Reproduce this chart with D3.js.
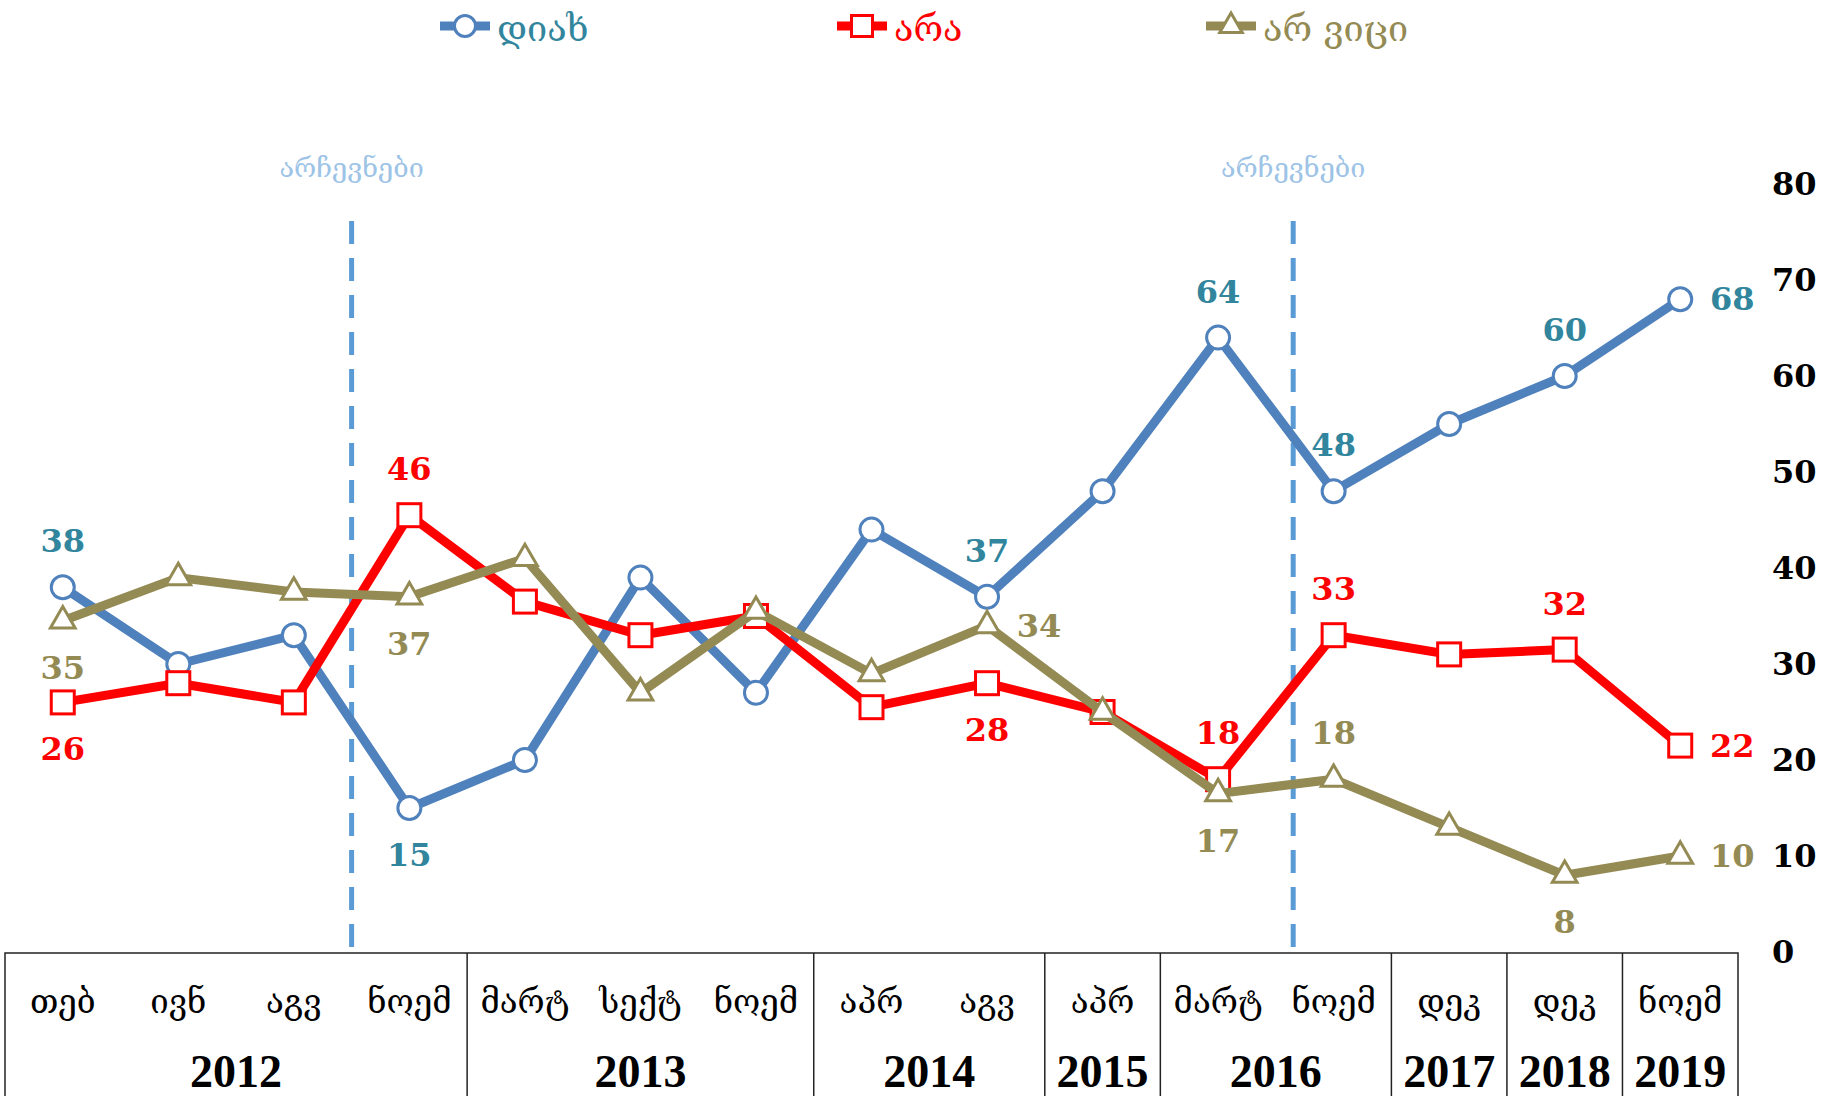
<!DOCTYPE html>
<html>
<head>
<meta charset="utf-8">
<script src="https://cdn.jsdelivr.net/npm/d3@7"></script>
<style>
  body { margin: 0; background: #fff; }
  svg { display: block; }
</style>
</head>
<body>
<div id="chart"></div>
<script>
// Data
const months = ['თებ', 'ივნ', 'აგვ', 'ნოემ', 'მარტ', 'სექტ', 'ნოემ', 'აპრ', 'აგვ', 'აპრ', 'მარტ', 'ნოემ', 'დეკ', 'დეკ', 'ნოემ'];
const years = [['2012', 4], ['2013', 3], ['2014', 2], ['2015', 1], ['2016', 2], ['2017', 1], ['2018', 1], ['2019', 1]];
const yes = [38, 30, 33, 15, 20, 39, 27, 44, 37, 48, 64, 48, 55, 60, 68];
const no = [26, 28, 26, 45.5, 36.5, 33, 35, 25.5, 28, 25, 18, 33, 31, 31.5, 21.5];
const dontKnow = [34.5, 39, 37.5, 37, 41, 27, 35.5, 29, 34, 25, 16.5, 18, 13, 8, 10];
const yTicks = [0, 10, 20, 30, 40, 50, 60, 70, 80];
const elections = [2.5, 10.65]; // position between survey waves
const electionLabel = 'არჩევნები';

// which points get a value label and where: [index, 'above' | 'below' | 'right']
const yesLabels = [[0, 'above'], [3, 'below'], [8, 'above'], [10, 'above'], [11, 'above'], [13, 'above'], [14, 'right']];
const noLabels = [[0, 'below'], [3, 'above'], [8, 'below'], [10, 'above'], [11, 'above'], [13, 'above'], [14, 'right']];
const dkLabels = [[0, 'below'], [3, 'below'], [8, 'right'], [10, 'below'], [11, 'above'], [13, 'below'], [14, 'right']];

const series = [
    { name: 'დიახ', values: yes, color: '#4f81bd', text: '#31859c', marker: 'circle', labels: yesLabels },
    { name: 'არა', values: no, color: '#ff0000', text: '#ff0000', marker: 'square', labels: noLabels },
    { name: 'არ ვიცი', values: dontKnow, color: '#948a54', text: '#948a54', marker: 'triangle', labels: dkLabels }
];

const width = 1823, height = 1096;
const svg = d3.select('#chart').append('svg').attr('width', width).attr('height', height);

// Scales
const x = d3.scaleLinear().domain([-0.5, months.length - 0.5]).range([5, 1738]);
const y = d3.scaleLinear().domain([0, 80]).range([952, 184]);

// Right axis
const yAxis = svg.append('g')
    .attr('transform', `translate(1766, 0)`)
    .call(d3.axisRight(y).tickValues(yTicks).tickSize(0).tickPadding(6));
yAxis.select('.domain').remove();
yAxis.selectAll('text')
    .attr('font-family', 'DejaVu Serif')
    .attr('font-weight', 'bold')
    .attr('font-size', 32)
    .attr('fill', '#000');

// Election markers
const el = svg.append('g').selectAll('g').data(elections).join('g');
el.append('line')
    .attr('x1', d => x(d)).attr('x2', d => x(d))
    .attr('y1', 221).attr('y2', 953)
    .attr('stroke', '#5b9bd5').attr('stroke-width', 5)
    .attr('stroke-dasharray', '23,14');
el.append('text')
    .attr('x', d => x(d)).attr('y', 169)
    .attr('text-anchor', 'middle').attr('dominant-baseline', 'middle')
    .attr('font-family', 'DejaVu Serif, DejaVu Sans')
    .attr('font-size', 27)
    .attr('fill', '#9dc3e6')
    .text(electionLabel);

// Table under the chart
const table = svg.append('g');
table.append('rect')
    .attr('x', x(-0.5)).attr('y', 953)
    .attr('width', x(months.length - 0.5) - x(-0.5)).attr('height', 160)
    .attr('fill', 'none').attr('stroke', '#222').attr('stroke-width', 1.5);
let start = 0;
const yearCells = years.map(([label, n]) => {
    const cell = { label, from: start, to: start + n };
    start += n;
    return cell;
});
table.selectAll('line').data(yearCells.slice(0, -1)).join('line')
    .attr('x1', d => x(d.to - 0.5)).attr('x2', d => x(d.to - 0.5))
    .attr('y1', 953).attr('y2', height)
    .attr('stroke', '#222').attr('stroke-width', 1.5);
table.selectAll('text.month').data(months).join('text')
    .attr('class', 'month')
    .attr('x', (d, i) => x(i)).attr('y', 1013)
    .attr('text-anchor', 'middle')
    .attr('font-family', 'DejaVu Serif, DejaVu Sans')
    .attr('font-size', 33)
    .attr('fill', '#000')
    .text(d => d);
table.selectAll('text.year').data(yearCells).join('text')
    .attr('class', 'year')
    .attr('x', d => (x(d.from - 0.5) + x(d.to - 0.5)) / 2).attr('y', 1087)
    .attr('text-anchor', 'middle')
    .attr('font-family', 'Liberation Serif')
    .attr('font-weight', 'bold')
    .attr('font-size', 46)
    .attr('fill', '#000')
    .text(d => d.label);

// Markers
const drawMarker = (g, type, color, size) => {
    if (type === 'circle') {
        g.append('circle').attr('r', size * 0.5).attr('fill', '#fff').attr('stroke', color).attr('stroke-width', 3);
    } else if (type === 'square') {
        g.append('rect').attr('x', -size / 2).attr('y', -size / 2).attr('width', size).attr('height', size)
            .attr('fill', '#fff').attr('stroke', color).attr('stroke-width', 3);
    } else {
        g.append('path').attr('d', d3.symbol(d3.symbolTriangle, size * size * 0.5)())
            .attr('fill', '#fff').attr('stroke', color).attr('stroke-width', 3);
    }
};

// Lines
const line = d3.line().x((d, i) => x(i)).y(d => y(d));
series.forEach(s => {
    const g = svg.append('g');
    g.append('path')
        .attr('d', line(s.values))
        .attr('fill', 'none')
        .attr('stroke', s.color)
        .attr('stroke-width', 9)
        .attr('stroke-linejoin', 'round');
    g.selectAll('g').data(s.values).join('g')
        .attr('transform', (d, i) => `translate(${x(i)}, ${y(d)})`)
        .each(function() { drawMarker(d3.select(this), s.marker, s.color, 23); });
});

// Value labels
series.forEach(s => {
    svg.append('g').selectAll('text').data(s.labels).join('text')
        .attr('x', ([i, pos]) => x(i) + (pos === 'right' ? 52 : 0))
        .attr('y', ([i, pos]) => y(s.values[i]) + (pos === 'above' ? -46 : pos === 'below' ? 47 : 0))
        .attr('text-anchor', 'middle')
        .attr('dominant-baseline', 'central')
        .attr('font-family', 'DejaVu Serif')
        .attr('font-weight', 'bold')
        .attr('font-size', 32)
        .attr('fill', s.text)
        .text(([i]) => Math.round(s.values[i]));
});

// Legend
const legendX = [440, 837, 1206];
const legend = svg.append('g').selectAll('g').data(series).join('g')
    .attr('transform', (d, i) => `translate(${legendX[i]}, 26)`);
legend.append('line')
    .attr('x1', 0).attr('x2', 50)
    .attr('stroke', d => d.color).attr('stroke-width', 9);
legend.each(function(d) {
    const m = d3.select(this).append('g').attr('transform', 'translate(25, 0)');
    drawMarker(m, d.marker, d.color, 21);
});
legend.append('text')
    .attr('x', 57).attr('y', 2)
    .attr('dominant-baseline', 'central')
    .attr('font-family', 'DejaVu Serif, DejaVu Sans')
    .attr('font-size', 36)
    .attr('fill', d => d.text)
    .text(d => d.name);
</script>
</body>
</html>
